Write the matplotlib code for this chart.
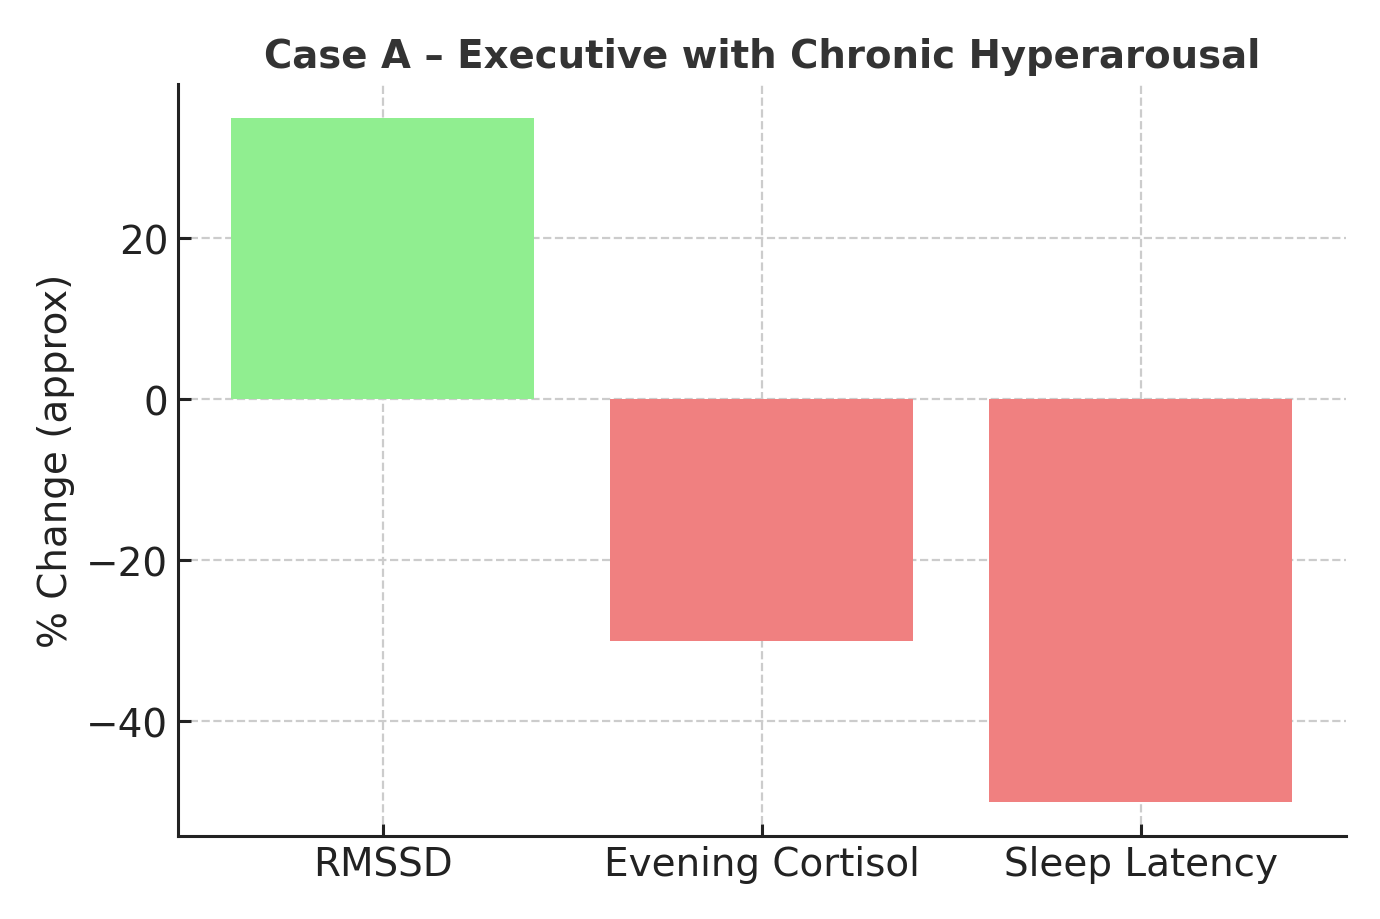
import matplotlib
matplotlib.use('Agg')
import matplotlib.pyplot as plt

# data
categories = ['RMSSD', 'Evening Cortisol', 'Sleep Latency']
pct_change = [35, -30, -50]

colors = ['lightgreen' if v > 0 else 'lightcoral' for v in pct_change]

fig, ax = plt.subplots(figsize=(6.9, 4.6), dpi=200)
fig.subplots_adjust(left=0.129, right=0.975, top=0.908, bottom=0.0905)

ax.bar(categories, pct_change, color=colors, width=0.8, zorder=2)

ax.set_title('Case A \u2013 Executive with Chronic Hyperarousal',
             fontsize=13.9, fontweight='bold', color='#333333')
ax.set_ylabel('% Change (approx)', fontsize=14, color='#222222')
ax.tick_params(axis='both', labelsize=14, colors='#222222', length=4.5,
               direction='in', width=1.1)

ax.grid(True, linestyle='--', color='#cccccc', linewidth=0.8, zorder=0)
ax.set_axisbelow(True)
for side in ['top', 'right']:
    ax.spines[side].set_visible(False)
for side in ['left', 'bottom']:
    ax.spines[side].set_color('#222222')
    ax.spines[side].set_linewidth(1.1)

fig.savefig('out.png', dpi=200)
